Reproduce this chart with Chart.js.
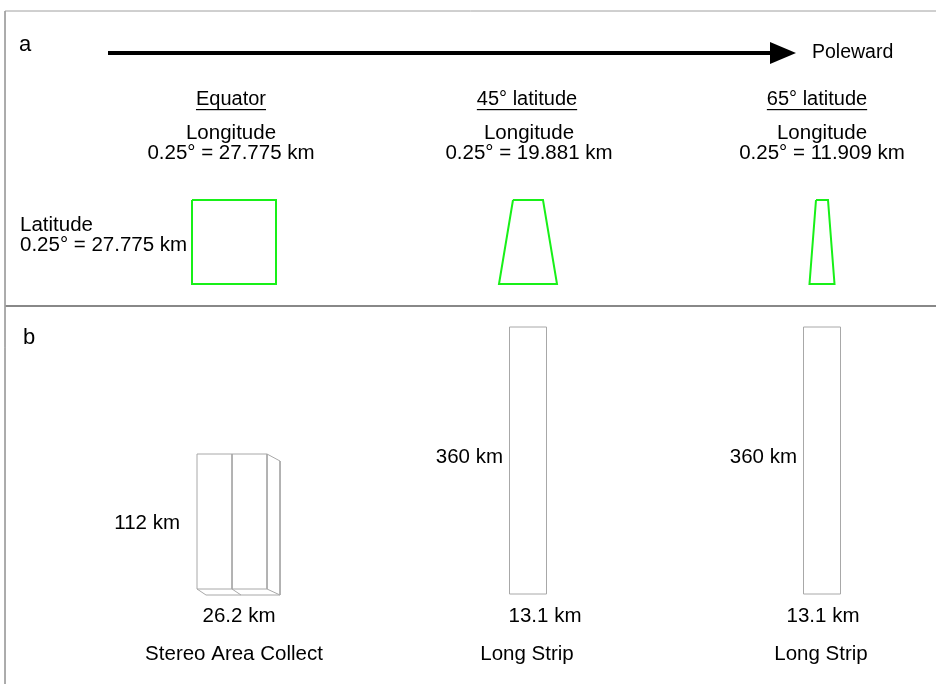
<!DOCTYPE html>
<html>
<head>
<meta charset="utf-8">
<script src="https://cdn.jsdelivr.net/npm/chart.js@4.4.1/dist/chart.umd.min.js"></script>
<style>
  html, body { margin: 0; padding: 0; background: #fff; }
  canvas { display: block; }
</style>
</head>
<body>
<canvas id="diagram" width="936" height="684"></canvas>
<script>
// ---- data ----
const latitudes = ['Equator', '45° latitude', '65° latitude'];
const lonKm = ['27.775', '19.881', '11.909'];
const latKm = '27.775';
const cellTop = [84, 30, 12];      // drawn width of the 0.25° cell, top edge
const cellBottom = [84, 58, 25];   // drawn width of the 0.25° cell, bottom edge
const cellHeight = 84;

const collects = ['Stereo Area Collect', 'Long Strip', 'Long Strip'];
const lengthKm = [112, 360, 360];
const widthKm = [26.2, 13.1, 13.1];
const stripCount = [2, 1, 1];
const drawnLength = [135, 267, 267];
const drawnStripWidth = [35, 37, 37];

// ---- layout (chart units == pixels) ----
const colA = [231, 529, 822];
const colB = [232, 528, 822];
const headX = [231, 527, 817];
const lengthLabelRight = [180, 503, 797];
const lengthLabelY = [523, 457, 457];
const widthLabelX = [239, 545, 823];
const nameX = [234, 527, 821];
const cellTopY = 200;
const stripBottomY = [589, 594, 594];
const depth = [13, 7];
const green = '#18f018';
const grey = '#a8a8a8';
const font = '"Liberation Sans", Arial, sans-serif';

const datasets = [];
function poly(pts, color, width) {
    datasets.push({
        data: pts.map(p => ({ x: p[0], y: p[1] })),
        showLine: true, borderColor: color, borderWidth: width,
        pointRadius: 0, fill: false, tension: 0
    });
}

// frame
poly([[936, 11], [5, 11], [5, 684]], '#a0a0a0', 1);
poly([[5, 306], [936, 306]], '#606060', 1.5);
// arrow shaft
poly([[108, 53], [772, 53]], '#000', 4);

// panel a: grid cells
latitudes.forEach((lat, i) => {
    const c = colA[i] + (i === 0 ? 3 : 0) - (i === 1 ? 1 : 0);
    const t = cellTop[i] / 2, b = cellBottom[i] / 2;
    poly([[c - t, cellTopY], [c + t, cellTopY], [c + b, cellTopY + cellHeight],
          [c - b, cellTopY + cellHeight], [c - t, cellTopY]], green, 2);
});

// panel b: collects
collects.forEach((name, i) => {
    const w = drawnStripWidth[i] * stripCount[i];
    const left = colB[i] - (i === 0 ? 35 : w / 2);
    const bot = stripBottomY[i];
    const top = bot - drawnLength[i];
    poly([[left, top], [left + w, top], [left + w, bot], [left, bot], [left, top]], grey, 1);
    for (let s = 1; s < stripCount[i]; s++) {
        const x = left + s * drawnStripWidth[i];
        poly([[x, top], [x, bot]], grey, 1);
    }
    if (stripCount[i] > 1) {
        const r = left + w;
        poly([[r, top], [r + depth[0], top + depth[1]], [r + depth[0], bot + 6], [r, bot]], grey, 1);
        poly([[left, bot], [left + 9, bot + 6], [r + depth[0], bot + 6]], grey, 1);
        for (let s = 1; s < stripCount[i]; s++) {
            const x = left + s * drawnStripWidth[i];
            poly([[x, bot], [x + 9, bot + 6]], grey, 1);
        }
    }
});

const textPlugin = {
    id: 'texts',
    afterDatasetsDraw(chart) {
        const ctx = chart.ctx;
        const X = v => chart.scales.x.getPixelForValue(v);
        const Y = v => chart.scales.y.getPixelForValue(v);
        ctx.save();
        ctx.fillStyle = '#000';
        ctx.textBaseline = 'middle';

        function txt(s, x, y, align, size, underline) {
            ctx.font = (size || 20.5) + 'px ' + font;
            ctx.textAlign = align || 'center';
            ctx.fillText(s, X(x), Y(y));
            if (underline) {
                const w = ctx.measureText(s).width;
                ctx.fillRect(X(x) - w / 2, Y(y + 10), w, 1.2);
            }
        }

        // arrowhead
        ctx.beginPath();
        ctx.moveTo(X(770), Y(42));
        ctx.lineTo(X(796), Y(53));
        ctx.lineTo(X(770), Y(64));
        ctx.closePath();
        ctx.fill();

        txt('a', 19, 45, 'left', 22);
        txt('b', 23, 338, 'left', 22);
        txt('Poleward', 812, 53, 'left', 19.5);

        latitudes.forEach((lat, i) => {
            txt(lat, headX[i], 99, 'center', 20, true);
            txt('Longitude', colA[i], 133);
            txt('0.25° = ' + lonKm[i] + ' km', colA[i], 153);
        });
        txt('Latitude', 20, 225, 'left');
        txt('0.25° = ' + latKm + ' km', 20, 245, 'left');

        collects.forEach((name, i) => {
            txt(lengthKm[i] + ' km', lengthLabelRight[i], lengthLabelY[i], 'right');
            txt(widthKm[i] + ' km', widthLabelX[i], 616);
            txt(name, nameX[i], 654);
        });
        ctx.restore();
    }
};

new Chart(document.getElementById('diagram'), {
    type: 'scatter',
    data: { datasets },
    options: {
        responsive: false,
        animation: false,
        layout: { padding: 0 },
        plugins: { legend: { display: false }, tooltip: { enabled: false } },
        scales: {
            x: { type: 'linear', min: 0, max: 936, display: false },
            y: { type: 'linear', min: 0, max: 684, reverse: true, display: false }
        }
    },
    plugins: [textPlugin]
});
</script>
</body>
</html>
